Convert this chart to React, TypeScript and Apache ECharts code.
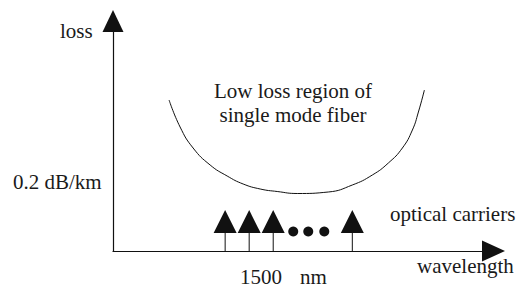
import React, { useEffect, useRef } from "react";
import * as echarts from "echarts";

// Low-loss curve of single mode fiber (arbitrary units)
const curveX = [56, 67, 80, 97, 114, 130, 147, 164, 184, 215, 239, 259, 275, 289, 299, 305, 311];
const curveY = [151, 124, 103, 86, 75, 67, 62, 59.5, 57.5, 59, 66, 76, 88, 103, 121, 139, 161];

// Optical carriers (arrows) and the dots between them
const carrierX = [112, 136, 160, 239];
const carrierY = [29.5, 29.5, 29.5, 29.5];
const stemTop = [22, 22, 22, 22];
const dotX = [180, 195, 211];
const dotY = [19.5, 19.5, 19.5];

// Texts
const yAxisName = "loss";
const yLevelLabel = "0.2 dB/km";
const xAxisName = "wavelength";
const xTickValue = "1500";
const xTickUnit = "nm";
const carrierLabel = "optical carriers";
const regionLabel = ["Low loss region of", "single mode fiber"];

const FONT_CSS = '21px "Liberation Serif", "Times New Roman", serif';

export default function App() {
  const ref = useRef<HTMLDivElement>(null);
  useEffect(() => {
    if (!ref.current) return;
    const chart = echarts.init(ref.current, undefined, { renderer: "svg" });
    const textStyle = (text: string) => ({
      text,
      font: FONT_CSS,
      fill: "#1a1a1a",
    });
    chart.setOption({
      animation: false,
      backgroundColor: "#ffffff",
      grid: { left: 113, right: 28.5, top: 21, bottom: 45 },
      xAxis: {
        type: "value",
        min: 0,
        max: 380,
        axisLine: {
          show: true,
          symbol: ["none", "triangle"],
          symbolSize: [21, 23],
          lineStyle: { color: "#111", width: 1.2 },
        },
        axisTick: { show: false },
        axisLabel: { show: false },
        splitLine: { show: false },
      },
      yAxis: {
        type: "value",
        min: 0,
        max: 230,
        axisLine: {
          show: true,
          symbol: ["none", "triangle"],
          symbolSize: [21, 22],
          lineStyle: { color: "#111", width: 1.2 },
        },
        axisTick: { show: false },
        axisLabel: { show: false },
        splitLine: { show: false },
      },
      series: [
        {
          type: "line",
          data: curveX.map((x, i) => [x, curveY[i]]),
          smooth: 0.5,
          showSymbol: false,
          lineStyle: { color: "#111", width: 1 },
        },
        {
          type: "bar",
          data: carrierX.map((x, i) => [x, stemTop[i]]),
          barWidth: 1,
          itemStyle: { color: "#111" },
        },
        {
          type: "scatter",
          data: carrierX.map((x, i) => [x, carrierY[i]]),
          symbol: "triangle",
          symbolSize: [23, 23],
          itemStyle: { color: "#111", opacity: 1 },
        },
        {
          type: "scatter",
          data: dotX.map((x, i) => [x, dotY[i]]),
          symbol: "circle",
          symbolSize: 10,
          itemStyle: { color: "#111", opacity: 1 },
        },
      ],
      graphic: [
        { type: "text", left: 60, top: 20, style: textStyle(yAxisName) },
        { type: "text", left: 13, top: 171, style: textStyle(yLevelLabel) },
        { type: "text", left: 240, top: 266, style: textStyle(xTickValue) },
        { type: "text", left: 300, top: 266, style: textStyle(xTickUnit) },
        { type: "text", left: 417, top: 255, style: textStyle(xAxisName) },
        { type: "text", left: 390, top: 203, style: textStyle(carrierLabel) },
        {
          type: "text",
          x: 293,
          y: 79,
          style: {
            ...textStyle(regionLabel.join("\n")),
            align: "center",
            verticalAlign: "top",
            lineHeight: 24,
          },
        },
      ],
    });
    return () => chart.dispose();
  }, []);
  return (
    <div
      ref={ref}
      style={{ position: "fixed", left: 0, top: 0, width: 522, height: 296 }}
    />
  );
}
